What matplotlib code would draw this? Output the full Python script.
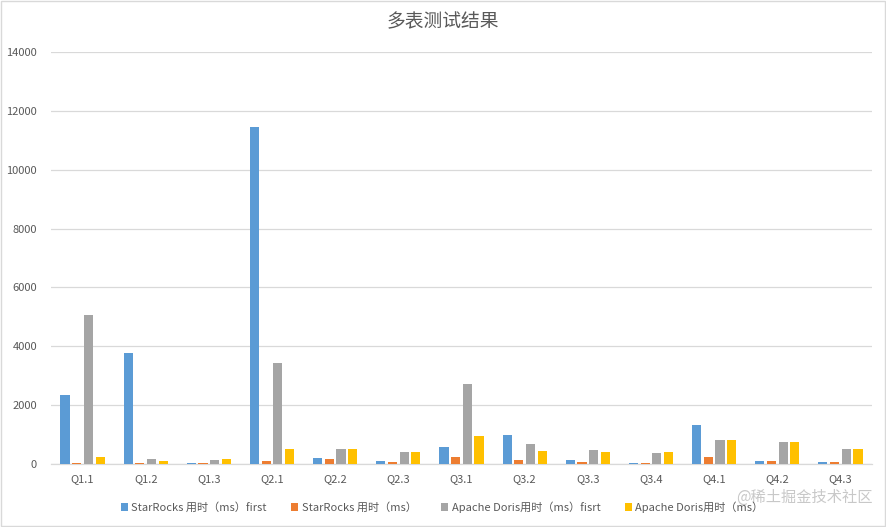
import matplotlib
matplotlib.use("Agg")
import matplotlib.pyplot as plt
import numpy as np
from matplotlib.patches import Rectangle

plt.rcParams['font.family'] = ['Noto Sans CJK SC', 'DejaVu Sans']

categories = ["Q1.1", "Q1.2", "Q1.3", "Q2.1", "Q2.2", "Q2.3", "Q3.1", "Q3.2",
              "Q3.3", "Q3.4", "Q4.1", "Q4.2", "Q4.3"]
series_names = ["StarRocks 用时（ms）first", "StarRocks 用时（ms）",
                "Apache Doris用时（ms）fisrt", "Apache Doris用时（ms）"]
starrocks_first = [2340, 3780, 35, 11460, 200, 100, 580, 980, 135, 30, 1320, 100, 70]
starrocks = [30, 30, 30, 110, 180, 70, 240, 150, 70, 30, 240, 100, 70]
doris_first = [5050, 170, 145, 3430, 510, 410, 2710, 680, 475, 375, 815, 745, 510]
doris = [250, 110, 180, 520, 510, 410, 950, 440, 410, 410, 815, 745, 510]
colors = ["#5B9BD5", "#ED7D31", "#A5A5A5", "#FFC000"]
yticks = [0, 2000, 4000, 6000, 8000, 10000, 12000, 14000]

fig = plt.figure(figsize=(8.86, 5.27), dpi=100)
ax = fig.add_axes([51/886, 1-464/527, (872-51)/886, (464-52)/527])

x = np.arange(len(categories))
width = 0.145
step = 0.185
for i, (vals, name, c) in enumerate(zip([starrocks_first, starrocks, doris_first, doris], series_names, colors)):
    ax.bar(x + (i - 1.5) * step, vals, width=width, color=c, label=name, zorder=3)

ax.set_xlim(-0.5, len(categories) - 0.5)
ax.set_ylim(0, 14000)
ax.set_yticks(yticks)
ax.set_yticklabels([str(t) for t in yticks])
ax.set_xticks(x)
ax.set_xticklabels(categories)
ax.tick_params(axis='both', length=0, labelsize=8, colors='#595959')
ax.tick_params(axis='y', pad=10)
ax.tick_params(axis='x', pad=7)
ax.grid(axis='y', color='#D9D9D9', linewidth=0.9, zorder=0)
for s in ['top', 'right', 'left']:
    ax.spines[s].set_visible(False)
ax.spines['bottom'].set_color('#D9D9D9')
ax.spines['bottom'].set_linewidth(0.9)

fig.text(0.5, 1-22/527, "多表测试结果", ha='center', va='center', fontsize=13.5, color='#595959')

leg = fig.legend(loc='center', bbox_to_anchor=(0.499, 1-507/527), ncol=4, frameon=False,
                 fontsize=8, handlelength=0.65, handleheight=0.65, handletextpad=0.3,
                 columnspacing=2.2, labelcolor='#595959')

fig.text(0.985, 1-497/527, "@稀土掘金技术社区", ha='right', va='center', fontsize=11,
         color='#C8C8C8')

fig.patches.append(Rectangle((0.001, 0.001), 0.998, 0.997, transform=fig.transFigure,
                             fill=False, edgecolor='#D9D9D9', linewidth=1))

fig.savefig("out.png", dpi=100)
